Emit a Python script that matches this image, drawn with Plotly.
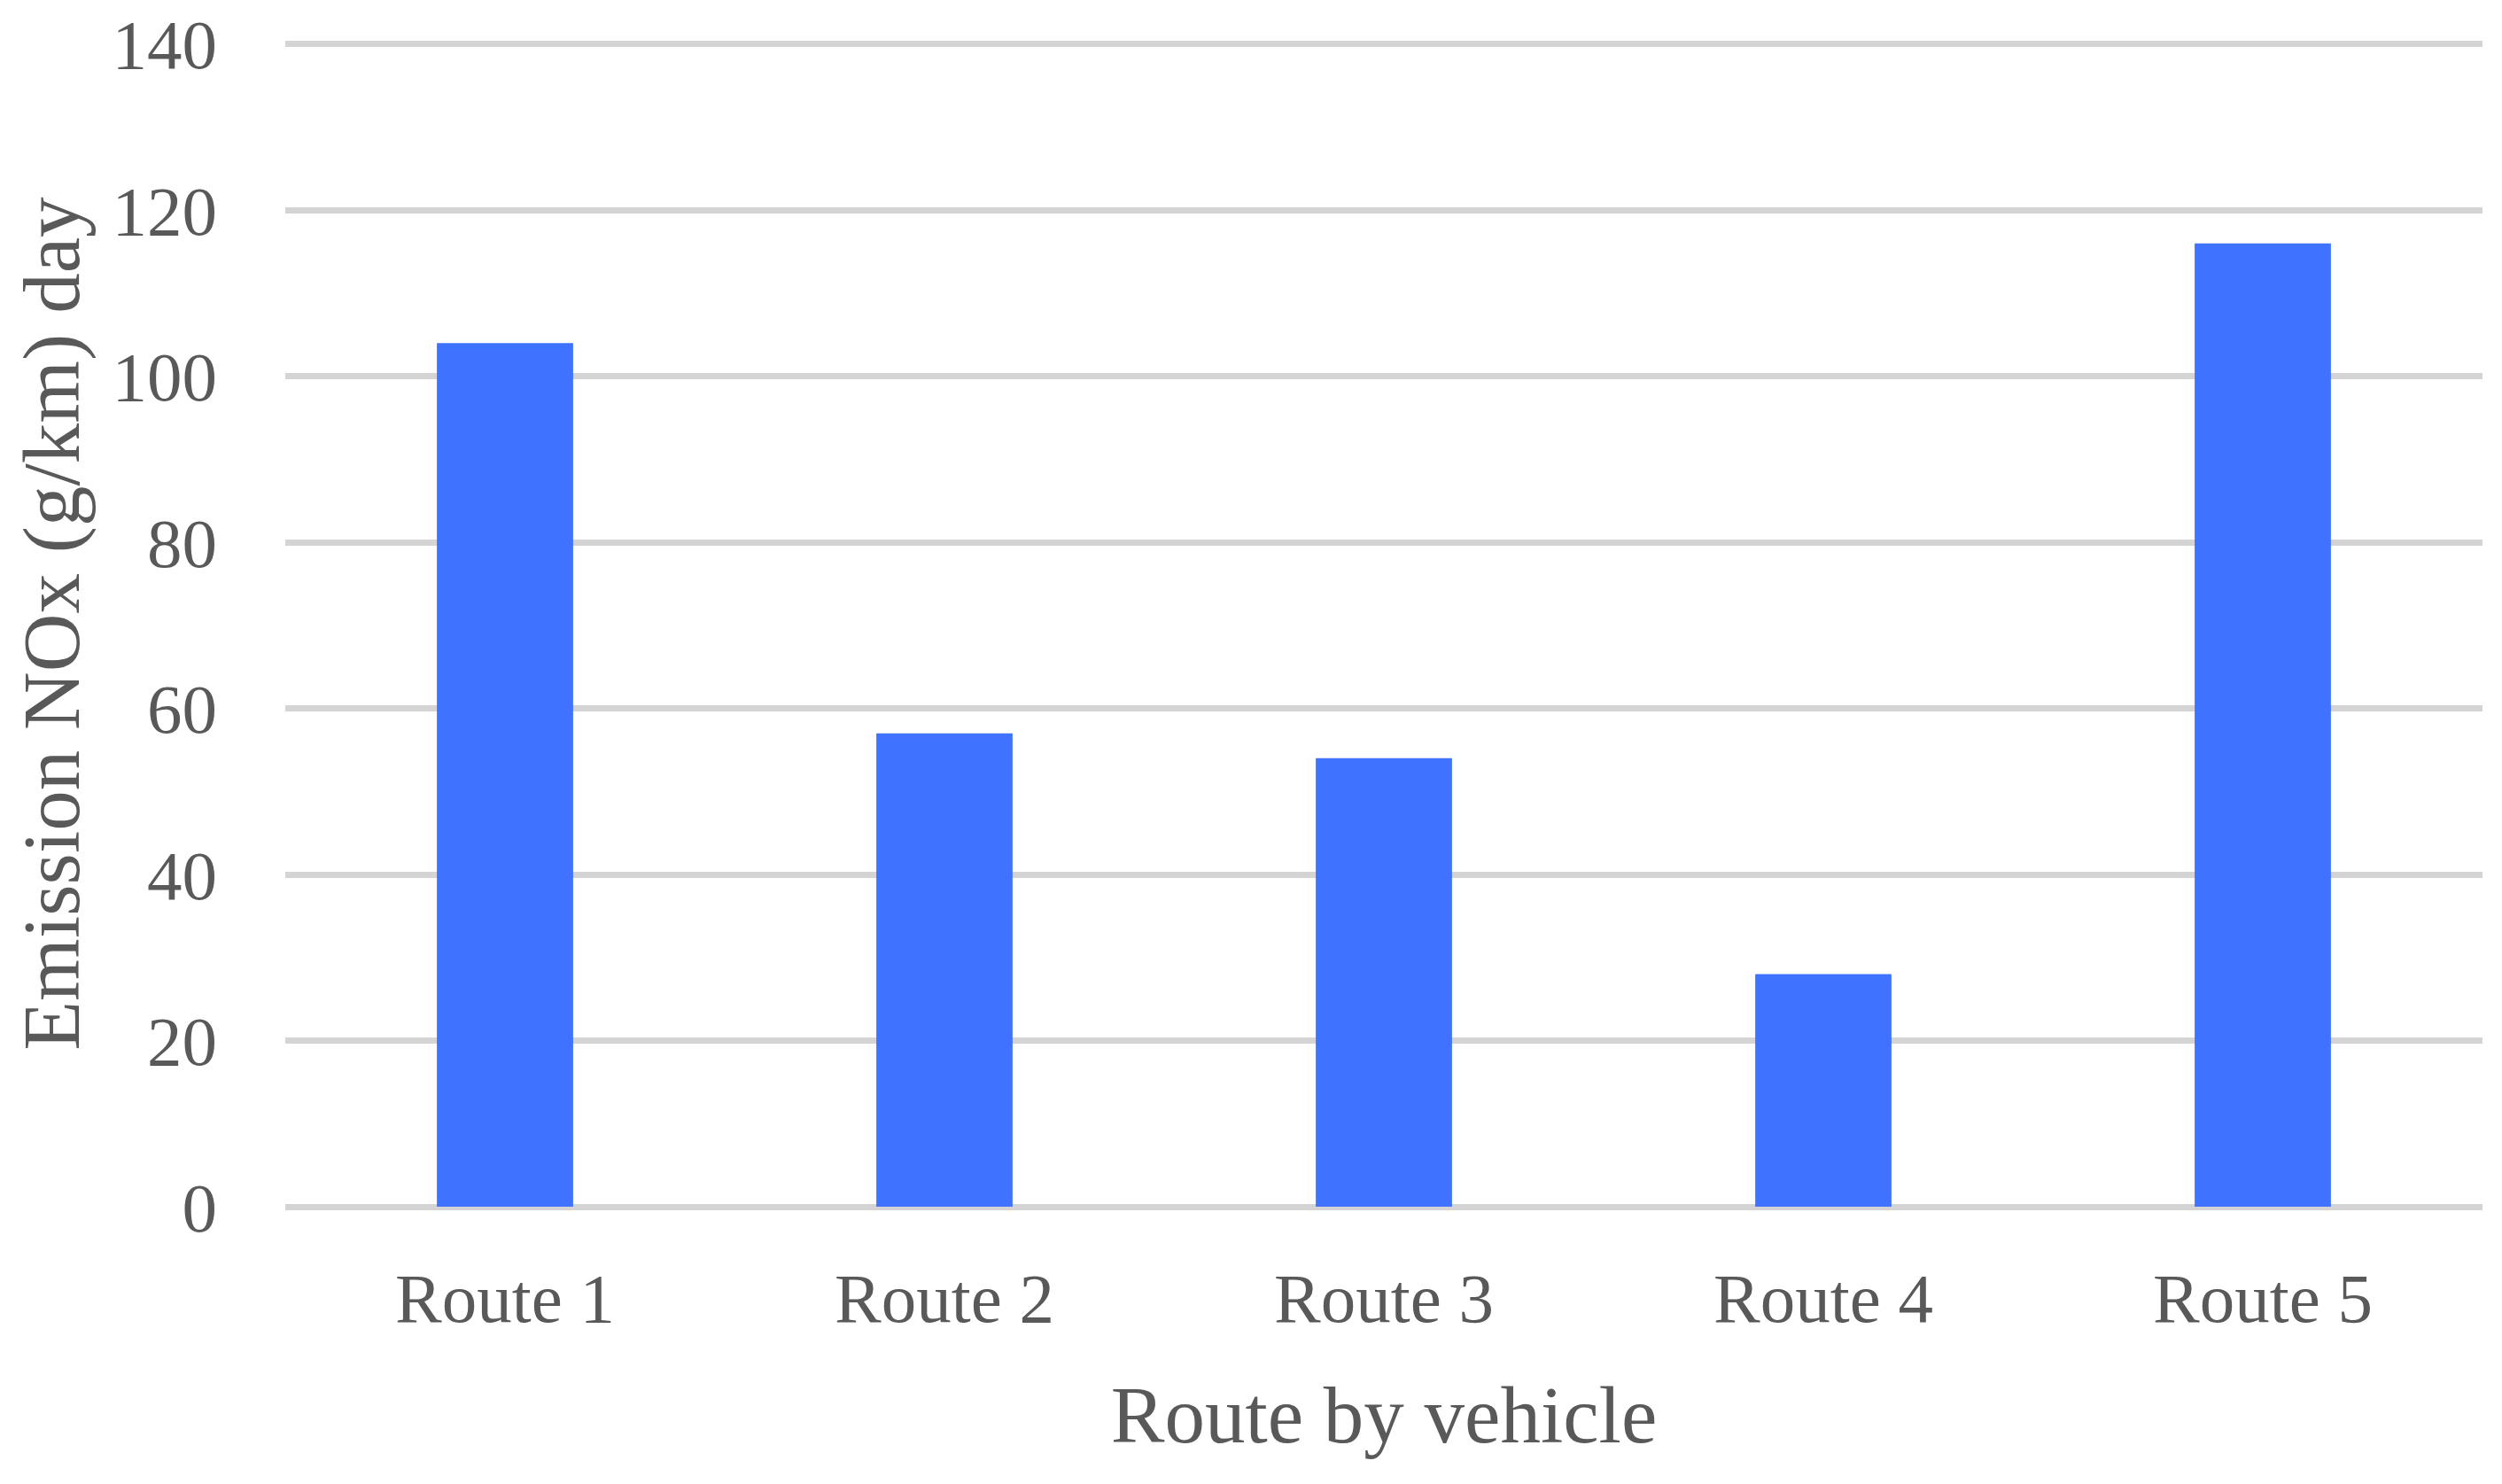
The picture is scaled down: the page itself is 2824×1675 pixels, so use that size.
import plotly.graph_objects as go

routes = ["Route 1", "Route 2", "Route 3", "Route 4", "Route 5"]
nox_per_day = [104, 57, 54, 28, 116]
y_ticks = [0, 20, 40, 60, 80, 100, 120, 140]

font_family = "Palatino Linotype, Book Antiqua, Palatino, Liberation Serif, serif"
text_color = "#595959"
grid_color = "#d4d4d4"

fig = go.Figure(go.Bar(
    x=routes,
    y=nox_per_day,
    marker=dict(color="#3e72ff", line=dict(width=0)),
    width=0.31,
))

fig.update_layout(
    width=2824,
    height=1675,
    paper_bgcolor="white",
    plot_bgcolor="white",
    margin=dict(l=314, r=30, t=38, b=321),
    showlegend=False,
    font=dict(family=font_family, color=text_color, size=79),
)

fig.update_xaxes(
    showgrid=False,
    showline=False,
    ticks="",
    ticklabelstandoff=50,
    tickfont=dict(size=79),
    title=dict(text="Route by vehicle", font=dict(size=91), standoff=56),
    automargin=False,
)

# slightly above 140 so the top gridline is still drawn
fig.update_yaxes(
    range=[0, 140.4],
    tickvals=y_ticks,
    showgrid=True,
    gridcolor=grid_color,
    gridwidth=7,
    zeroline=True,
    zerolinecolor=grid_color,
    zerolinewidth=7,
    showline=False,
    ticks="",
    ticklabelstandoff=76,
    ticklabeloverflow="allow",
    tickfont=dict(size=79),
    title=dict(text="Emission NOx (g/km) day", font=dict(size=91), standoff=26),
    automargin=False,
)

fig.write_html("out.html")
